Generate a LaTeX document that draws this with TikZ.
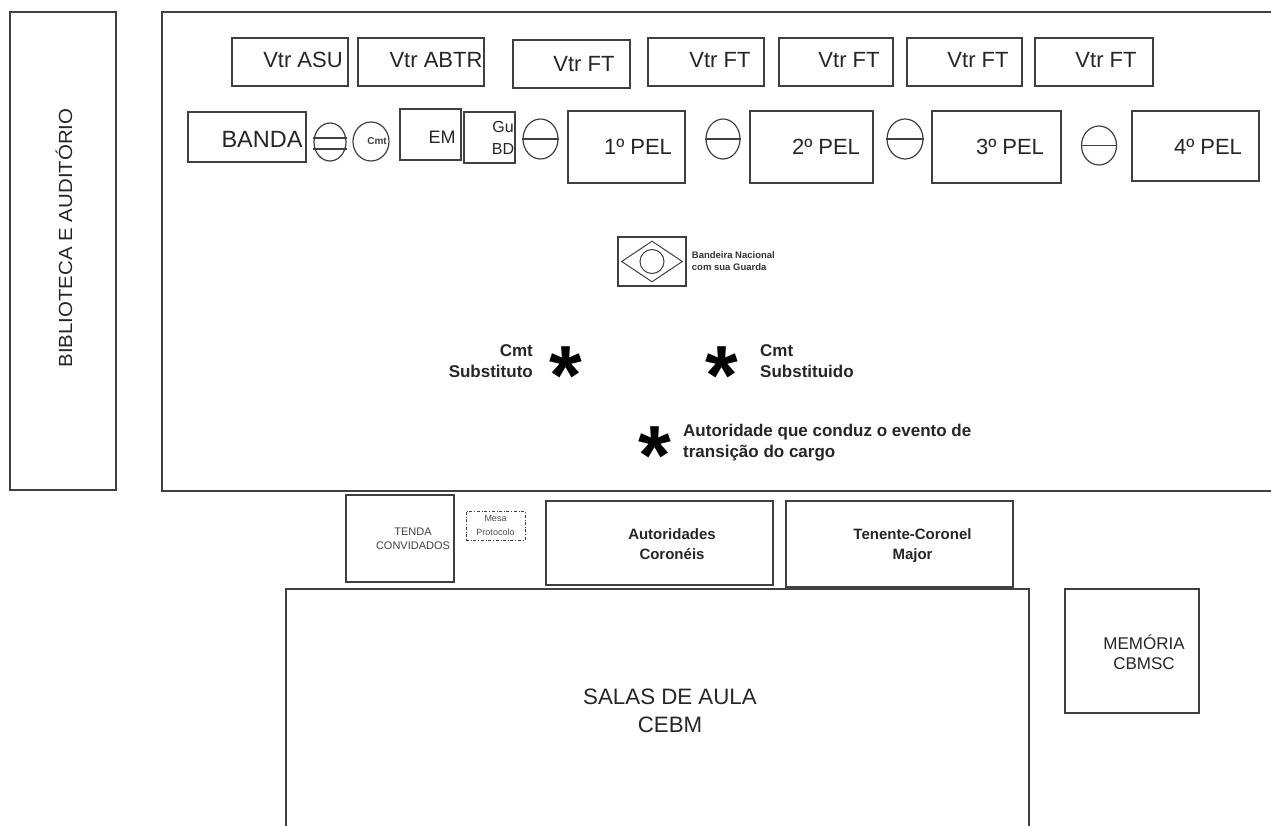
\documentclass[tikz,border=0pt]{standalone}
\usepackage{fontspec}
\setmainfont{Liberation Sans}
\usepackage{tikz}
\usetikzlibrary{positioning}
\usetikzlibrary{shapes.geometric}

\definecolor{traco}{HTML}{404040}
\tikzset{
    caixa/.style={rectangle, draw=traco, line width=1.5pt, inner sep=0pt},
    bola/.style={ellipse, draw=traco, line width=1.2pt, inner sep=0pt},
    grande/.style={font=\fontsize{22}{24}\selectfont, text=black!85, inner sep=0pt},
    medio/.style={font=\fontsize{17}{22}\selectfont, text=black!85, inner sep=0pt, align=center},
    negrito/.style={font=\fontsize{17}{21.5}\selectfont\bfseries, text=black!85, inner sep=0pt},
    miudo/.style={font=\fontsize{11}{14}\selectfont, text=black!75, inner sep=0pt, align=center},
    marca/.style={font=\fontsize{84}{84}\selectfont\bfseries, inner sep=0pt}
}

\begin{document}
\begin{tikzpicture}[x=1pt, y=-1pt]
                \useasboundingbox (0,0) rectangle (1271,826);

                \node[caixa, minimum width=106, minimum height=478] (biblioteca) at (63,251) {};
                \node[medio, rotate=90, font=\fontsize{19}{22}\selectfont, xscale=1.075] (tbiblioteca) at (64,238) {BIBLIOTECA E AUDITÓRIO};

                \coordinate (campoA) at (1271,12);
                \coordinate (campoB) at (162,12);
                \coordinate (campoC) at (162,491);
                \coordinate (campoD) at (1271,491);
                \draw[draw=traco, line width=1.5pt] (campoA) -- (campoB) -- (campoC) -- (campoD);

                \node[caixa, minimum width=116, minimum height=48] (asu) at (290,62) {};
                \node[caixa, minimum width=126, minimum height=48] (abtr) at (421,62) {};
                \node[caixa, minimum width=117, minimum height=48] (ft1) at (571.5,64) {};
                \node[caixa, minimum width=116, minimum height=48] (ft2) at (706,62) {};
                \node[caixa, minimum width=114, minimum height=48] (ft3) at (836,62) {};
                \node[caixa, minimum width=115, minimum height=48] (ft4) at (964.5,62) {};
                \node[caixa, minimum width=118, minimum height=48] (ft5) at (1094,62) {};
                \node[grande] (tasu) at (303,60) {Vtr ASU};
                \node[grande] (tabtr) at (436,60) {Vtr ABTR};
                \node[grande] (tft1) at (584,64) {Vtr FT};
                \node[grande] (tft2) at (720,60) {Vtr FT};
                \node[grande] (tft3) at (849,60) {Vtr FT};
                \node[grande] (tft4) at (978,60) {Vtr FT};
                \node[grande] (tft5) at (1106,60) {Vtr FT};

                \node[caixa, minimum width=118, minimum height=50] (banda) at (247,137) {};
                \node[grande, font=\fontsize{23.5}{26}\selectfont] (tbanda) at (262,139) {BANDA};
                \node[bola, minimum width=32, minimum height=38] (guarda) at (330,142) {};
                \draw[draw=traco, line width=1.2pt] ([yshift=4pt]guarda.west) -- ([yshift=4pt]guarda.east);
                \draw[draw=traco, line width=1.2pt] ([yshift=-7pt]guarda.west) -- ([yshift=-7pt]guarda.east);
                \node[bola, minimum width=36, minimum height=39] (cmt) at (371,141.5) {};
                \node[inner sep=0pt, font=\fontsize{10}{12}\selectfont\bfseries, text=black!75] (tcmt) at (377,141) {Cmt};
                \node[caixa, minimum width=61, minimum height=51] (em) at (430.5,134.5) {};
                \node[grande, font=\fontsize{18}{20}\selectfont] (tem) at (442,137) {EM};
                \node[caixa, minimum width=51, minimum height=51] (gubd) at (489.5,137.5) {};
                \node[medio, font=\fontsize{16}{22}\selectfont] (tgubd) at (503,138) {Gu\\BD};
                \node[bola, minimum width=35, minimum height=40] (ban1) at (540.5,139) {};
                \draw[draw=traco, line width=1.2pt] (ban1.west) -- (ban1.east);

                \node[caixa, minimum width=117, minimum height=72] (pel1) at (626.5,147) {};
                \node[grande] (tpel1) at (638,147) {1º PEL};
                \node[bola, minimum width=34, minimum height=40] (ban2) at (723,139) {};
                \draw[draw=traco, line width=1.2pt] (ban2.west) -- (ban2.east);
                \node[caixa, minimum width=123, minimum height=72] (pel2) at (811.5,147) {};
                \node[grande] (tpel2) at (826,147) {2º PEL};
                \node[bola, minimum width=36, minimum height=40] (ban3) at (905,139) {};
                \draw[draw=traco, line width=1.2pt] (ban3.west) -- (ban3.east);
                \node[caixa, minimum width=129, minimum height=72] (pel3) at (996.5,147) {};
                \node[grande] (tpel3) at (1010,147) {3º PEL};
                \node[bola, minimum width=35, minimum height=39] (ban4) at (1099,145.5) {};
                \draw[draw=traco, line width=1.2pt] (ban4.west) -- (ban4.east);
                \node[caixa, minimum width=127, minimum height=70] (pel4) at (1195.5,146) {};
                \node[grande] (tpel4) at (1208,147) {4º PEL};

                \node[caixa, minimum width=68, minimum height=49] (bandeira) at (652,261.5) {};
                \node[diamond, draw=traco, line width=1pt, inner sep=0pt, minimum width=61, minimum height=41] (losango) at (652,261.5) {};
                \node[circle, draw=traco, line width=1pt, inner sep=0pt, minimum size=24] (disco) at (652,261.5) {};
                \node[inner sep=0pt, right=5pt of bandeira, align=left, font=\fontsize{9.5}{12}\selectfont\bfseries, text=black!80] (tbandeira) {Bandeira Nacional\\com sua Guarda};

                \node[marca] (sub1) at (565.5,376) {*};
                \node[marca] (sub2) at (722,376) {*};
                \node[marca] (aut) at (655,456) {*};
                \node[negrito, align=right, anchor=east] (tsub1) at (533,361) {Cmt\\Substituto};
                \node[negrito, align=left, anchor=west] (tsub2) at (760,361) {Cmt\\Substituido};
                \node[negrito, align=left, anchor=west] (taut) at (683,442.5) {Autoridade que conduz o evento de\\transição do cargo};

                \node[caixa, minimum width=108, minimum height=87] (tenda) at (400,538.5) {};
                \node[miudo] (ttenda) at (413,539) {TENDA\\CONVIDADOS};
                \node[rectangle, draw=traco, dash dot, line width=1pt, inner sep=0pt, minimum width=59, minimum height=29, font=\fontsize{9}{14}\selectfont, text=black!70, align=center] (mesa) at (495.5,525.5) {Mesa\\Protocolo};
                \node[caixa, minimum width=227, minimum height=84] (coroneis) at (659.5,543) {};
                \node[negrito, font=\fontsize{15}{20.5}\selectfont\bfseries, align=center] (tcoroneis) at (672,544) {Autoridades\\Coronéis};
                \node[caixa, minimum width=227, minimum height=86] (tencor) at (899.5,544) {};
                \node[negrito, font=\fontsize{15}{20.5}\selectfont\bfseries, align=center] (ttencor) at (912.5,545.5) {Tenente-Coronel\\Major};

                \coordinate (salaA) at (286,826);
                \coordinate (salaB) at (286,589);
                \coordinate (salaC) at (1029,589);
                \coordinate (salaD) at (1029,826);
                \draw[draw=traco, line width=1.5pt] (salaA) -- (salaB) -- (salaC) -- (salaD);
                \node[grande, font=\fontsize{22.3}{28}\selectfont, align=center] (tsala) at (670,711) {SALAS DE AULA\\CEBM};
                \node[caixa, minimum width=134, minimum height=124] (memoria) at (1132,651) {};
                \node[medio, font=\fontsize{17}{20}\selectfont] (tmemoria) at (1144,652) {MEMÓRIA\\CBMSC};
            \end{tikzpicture}
\end{document}
